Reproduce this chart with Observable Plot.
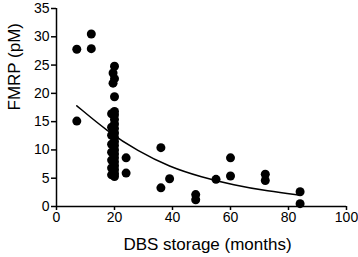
<!DOCTYPE html>
<html>
<head>
<meta charset="utf-8">
<script src="https://cdn.jsdelivr.net/npm/d3@7"></script>
<script src="https://cdn.jsdelivr.net/npm/@observablehq/plot@0.6"></script>
<style>
html, body { margin: 0; padding: 0; background: #fff; }
</style>
</head>
<body>
<div id="chart"></div>
<script>
// Scatter points: storage months and FMRP (pM)
const storageMonths = [
  7, 7, 12, 12,
  20, 19.5, 20, 19.5, 20,
  20, 20, 20, 20, 20, 20, 20, 20, 20, 20, 20, 20, 20, 20, 20, 20, 20,
  19, 19, 19, 19, 19, 19, 19, 19,
  24, 24,
  36, 36, 39,
  48, 48,
  55, 60, 60,
  72, 72,
  84, 84
];
const fmrpValues = [
  27.8, 15.1, 30.5, 27.9,
  24.8, 23.6, 22.6, 21.8, 19.4,
  16.8, 16.2, 15.4, 14.6, 13.8, 13.0, 12.2, 11.5, 10.8, 10.0, 9.3, 8.6, 7.9, 7.2, 6.5, 5.8, 5.3,
  16.4, 14.0, 12.6, 11.0, 9.6, 8.2, 6.8, 5.6,
  8.6, 5.9,
  10.4, 3.3, 4.9,
  2.1, 1.2,
  4.8, 8.6, 5.4,
  5.7, 4.6,
  2.6, 0.5
];
// Fitted decay curve
const fitMonths = [7, 17.5, 28, 39, 50, 61, 73, 84];
const fitValues = [17.8, 13.3, 9.8, 7.0, 5.2, 3.8, 2.7, 2.0];
// Axis ticks and labels
const xTicks = [0, 20, 40, 60, 80, 100];
const yTicks = [0, 5, 10, 15, 20, 25, 30, 35];
const xLabel = "DBS storage (months)";
const yLabel = "FMRP (pM)";

const points = storageMonths.map((m, i) => ({m, v: fmrpValues[i]}));
const fit = fitMonths.map((m, i) => ({m, v: fitValues[i]}));

const chart = Plot.plot({
  width: 358,
  height: 257,
  marginLeft: 56,
  marginRight: 12,
  marginTop: 8,
  marginBottom: 51,
  style: {fontFamily: "'Liberation Sans', Arial, sans-serif", fontSize: "14px", color: "#000", background: "#fff"},
  x: {domain: [0, 100]},
  y: {domain: [0, 35]},
  marks: [
    Plot.axisX({ticks: xTicks, tickSize: 4, tickPadding: 2, label: null, stroke: "#000", strokeWidth: 1.5, fontSize: 14}),
    Plot.axisY({ticks: yTicks, tickSize: 5, tickPadding: 2, label: null, stroke: "#000", strokeWidth: 1.5, fontSize: 14}),
    Plot.ruleY([0], {stroke: "#000", strokeWidth: 1.5}),
    Plot.ruleX([0], {stroke: "#000", strokeWidth: 1.5}),
    Plot.dot(points, {x: "m", y: "v", r: 4.5, fill: "#000", stroke: "none"}),
    Plot.line(fit, {x: "m", y: "v", stroke: "#000", strokeWidth: 1.5, curve: "basis"}),
    Plot.text([xLabel], {frameAnchor: "bottom", text: d => d, dy: 43, dx: 6, fontSize: 17, fill: "#000"}),
    Plot.text([yLabel], {frameAnchor: "left", text: d => d, dx: -42, dy: 3, rotate: -90, fontSize: 17, fill: "#000"})
  ]
});
document.getElementById("chart").appendChild(chart);
</script>
</body>
</html>
